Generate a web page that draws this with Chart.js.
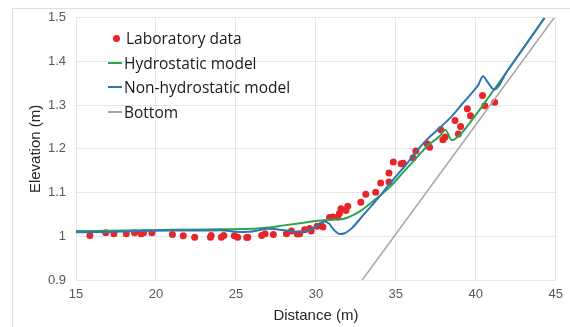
<!DOCTYPE html>
<html>
<head>
<meta charset="utf-8">
<script src="https://cdn.jsdelivr.net/npm/chart.js@4"></script>
<style>
  html, body { margin: 0; padding: 0; background: #fff; }
  #wrap { position: relative; width: 570px; height: 327px; overflow: hidden; }
  #frame { position: absolute; left: 12px; top: 8px; width: 600px; height: 400px;
           border-left: 1px solid #e0e0e0; border-top: 1px solid #e0e0e0; }
  canvas { position: absolute; left: 0; top: 0; }
  #legend { position: absolute; left: 108px; top: 26px; font-family: "Open Sans", sans-serif;
            font-size: 15.5px; color: #1a1a1a; line-height: 24.5px; }
  .item { display: flex; align-items: center; white-space: nowrap; }
  .sym { width: 14px; height: 2px; margin-right: 2px; }
  .dot { width: 7px; height: 7px; border-radius: 50%; margin: 0 6px 0 5px; }
</style>
</head>
<body>
<div id="wrap">
  <div id="frame"></div>
  <canvas id="chart" width="570" height="327"></canvas>
  <div id="legend">
    <div class="item"><span class="dot" style="background:#e8262a"></span>Laboratory data</div>
    <div class="item"><span class="sym" style="background:#2ea44f"></span>Hydrostatic model</div>
    <div class="item"><span class="sym" style="background:#2e75b6"></span>Non-hydrostatic model</div>
    <div class="item"><span class="sym" style="background:#a6a6a6"></span>Bottom</div>
  </div>
</div>
<script>
// Laboratory measurements
const labX = [15.87, 16.86, 17.37, 18.14, 18.66, 19.07, 19.22, 19.75, 21.03, 21.71, 22.42, 23.41, 23.45, 24.09, 24.24, 24.90, 25.11, 25.68, 25.74, 26.61, 26.82, 27.34, 28.16, 28.47, 28.84, 28.99, 29.30, 29.61, 29.71, 30.08, 30.33, 30.44, 30.85, 31.06, 31.37, 31.47, 31.57, 31.88, 31.99, 32.81, 33.12, 33.74, 34.05, 34.57, 34.57, 34.84, 35.33, 35.46, 36.08, 36.25, 36.95, 37.11, 37.81, 37.94, 38.08, 38.70, 38.91, 39.05, 39.47, 39.67, 40.42, 40.56, 41.18];
const labY = [1.002, 1.008, 1.006, 1.006, 1.008, 1.006, 1.008, 1.008, 1.004, 1.001, 0.998, 0.998, 1.002, 0.998, 1.002, 1.001, 0.998, 0.997, 0.998, 1.002, 1.006, 1.004, 1.006, 1.012, 1.005, 1.006, 1.015, 1.018, 1.012, 1.023, 1.025, 1.021, 1.043, 1.044, 1.044, 1.052, 1.063, 1.059, 1.069, 1.078, 1.096, 1.101, 1.122, 1.145, 1.124, 1.170, 1.166, 1.167, 1.180, 1.195, 1.212, 1.204, 1.244, 1.221, 1.227, 1.265, 1.234, 1.251, 1.292, 1.276, 1.322, 1.299, 1.307];

// Hydrostatic model
const hydroX = [15, 18, 21, 24, 26, 27, 28, 29, 30, 30.5, 31, 31.6, 32, 32.8, 33.5, 34.6, 35.5, 36.3, 37, 37.7, 38.1, 38.5, 39, 39.8, 40.6, 41.15, 42, 43, 44.3];
const hydroY = [1.012, 1.013, 1.015, 1.016, 1.017, 1.020, 1.025, 1.030, 1.035, 1.037, 1.038, 1.039, 1.043, 1.058, 1.078, 1.112, 1.148, 1.180, 1.208, 1.228, 1.243, 1.220, 1.232, 1.268, 1.308, 1.336, 1.380, 1.432, 1.50];

// Non-hydrostatic model
const nonHydroX = [15, 17, 19, 21, 23, 24, 25.2, 26, 27, 28, 29, 29.5, 30, 30.5, 30.8, 31.1, 31.5, 31.8, 32.2, 33, 34, 34.7, 35.5, 36.1, 36.8, 37.8, 38.5, 39.2, 39.8, 40.15, 40.45, 40.75, 41.15, 42, 43, 44.3];
const nonHydroY = [1.009, 1.010, 1.012, 1.013, 1.013, 1.014, 1.010, 1.011, 1.017, 1.014, 1.010, 1.013, 1.022, 1.034, 1.030, 1.016, 1.005, 1.007, 1.017, 1.050, 1.092, 1.124, 1.158, 1.185, 1.216, 1.250, 1.275, 1.305, 1.330, 1.346, 1.366, 1.352, 1.336, 1.380, 1.432, 1.50];

// Bottom slope
const bottomX = [32.9, 44.9];
const bottomY = [0.9, 1.5];

const xTicks = [15, 20, 25, 30, 35, 40, 45];
const yTicks = [0.9, 1.0, 1.1, 1.2, 1.3, 1.4, 1.5];

const pts = (xs, ys) => xs.map((x, i) => ({ x: x, y: ys[i] }));
const tickColor = '#595959';
const tickFont = { family: 'Liberation Sans, Arial, sans-serif', size: 13 };

new Chart(document.getElementById('chart'), {
    type: 'scatter',
    data: {
        datasets: [
            { label: 'Laboratory data', data: pts(labX, labY), backgroundColor: '#e8262a', borderWidth: 0, pointRadius: 3.5, order: 3 },
            { label: 'Hydrostatic model', data: pts(hydroX, hydroY), showLine: true, borderColor: '#2ea44f', borderWidth: 2, pointRadius: 0, cubicInterpolationMode: 'monotone', order: 2 },
            { label: 'Non-hydrostatic model', data: pts(nonHydroX, nonHydroY), showLine: true, borderColor: '#2e75b6', borderWidth: 2, pointRadius: 0, cubicInterpolationMode: 'monotone', order: 1 },
            { label: 'Bottom', data: pts(bottomX, bottomY), showLine: true, borderColor: '#a6a6a6', borderWidth: 1.5, pointRadius: 0, order: 0 }
        ]
    },
    options: {
        responsive: false,
        animation: false,
        layout: { padding: { top: 17, right: 10, left: 0, bottom: 0 } },
        plugins: { legend: { display: false }, tooltip: { enabled: false } },
        scales: {
            x: {
                type: 'linear', min: 15, max: 45,
                afterBuildTicks: s => { s.ticks = xTicks.map(v => ({ value: v })); },
                afterFit: s => { s.height = 47; },
                grid: { color: '#e6e6e6', drawTicks: false },
                border: { display: false },
                ticks: { color: tickColor, font: tickFont, padding: 7 },
                title: { display: true, text: 'Distance (m)', color: '#262626', font: { family: 'Liberation Sans, Arial, sans-serif', size: 15 }, padding: { top: 0, bottom: 2 } }
            },
            y: {
                type: 'linear', min: 0.9, max: 1.5,
                afterBuildTicks: s => { s.ticks = yTicks.map(v => ({ value: v })); },
                afterFit: s => { s.width = 76; },
                grid: { color: '#e6e6e6', drawTicks: false },
                border: { display: false },
                ticks: { color: tickColor, font: tickFont, padding: 10, callback: v => String(Number(v.toFixed(1))) },
                title: { display: true, text: 'Elevation (m)', color: '#262626', font: { family: 'Liberation Sans, Arial, sans-serif', size: 15 }, padding: { top: 27, bottom: 0 } }
            }
        }
    }
});
</script>
</body>
</html>
